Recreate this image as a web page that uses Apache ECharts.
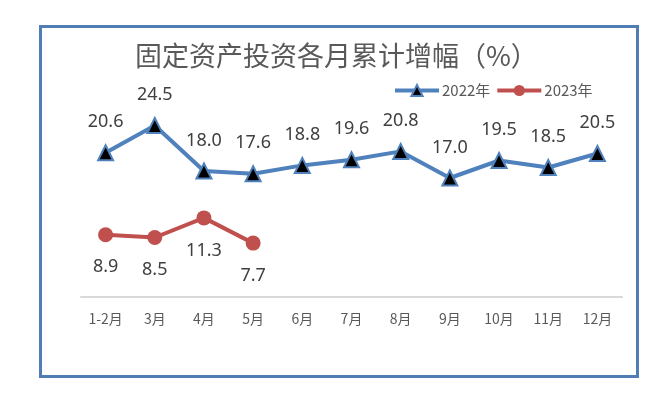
<!DOCTYPE html>
<html><head><meta charset="utf-8">
<script src="https://cdn.jsdelivr.net/npm/echarts@6/dist/echarts.min.js"></script>
<style>html,body{margin:0;padding:0;background:#fff}#c{width:661px;height:393px}</style>
</head><body><div id="c"></div>
<script>
const categories = ['1-2月','3月','4月','5月','6月','7月','8月','9月','10月','11月','12月'];
const values2022 = [20.6, 24.5, 18.0, 17.6, 18.8, 19.6, 20.8, 17.0, 19.5, 18.5, 20.5];
const values2023 = [8.9, 8.5, 11.3, 7.7];
const seriesNames = ['2022年', '2023年'];
const titleText = '固定资产投资各月累计增幅（%）';

const chart = echarts.init(document.getElementById('c'), null, {renderer: 'canvas'});
chart.setOption({
  animation: false,
  backgroundColor: '#fff',
  graphic: [{
    type: 'rect', left: 38, top: 24,
    shape: {width: 597, height: 350},
    style: {fill: 'none', stroke: '#4f7db4', lineWidth: 3}
  }],
  title: {
    text: titleText, left: 130, top: 37,
    textStyle: {fontFamily: 'Noto Sans CJK SC', fontSize: 27, fontWeight: 'normal', color: '#595959'}
  },
  legend: {
    left: 388, top: 78, itemWidth: 44, itemHeight: 14, itemGap: 5,
    lineStyle: {width: 4},
    textStyle: {fontFamily: 'Noto Sans CJK SC', fontSize: 15, color: '#595959', padding: [0,0,0,-2]},
    data: seriesNames
  },
  grid: {left: 81, right: 39, top: 87, bottom: 96},
  xAxis: {
    type: 'category', data: categories, boundaryGap: true,
    axisLine: {lineStyle: {color: '#d9d9d9', width: 2}},
    axisTick: {show: false},
    axisLabel: {margin: 15, fontFamily: 'Noto Sans CJK SC', fontSize: 14, color: '#595959'}
  },
  yAxis: {
    type: 'value', min: 0, max: 30, show: false, splitLine: {show: false}
  },
  series: [{
    name: seriesNames[0], type: 'line', data: values2022,
    symbol: 'triangle', symbolSize: 15,
    lineStyle: {color: '#4f81bd', width: 4},
    itemStyle: {color: '#000', borderColor: '#4f81bd', borderWidth: 2},
    label: {show: true, position: 'top', distance: 13, formatter: p => p.value.toFixed(1),
      fontFamily: 'Noto Sans', fontSize: 18, color: '#404040'}
  }, {
    name: seriesNames[1], type: 'line', data: values2023,
    symbol: 'circle', symbolSize: 15,
    lineStyle: {color: '#c0504d', width: 4},
    itemStyle: {color: '#c0504d'},
    label: {show: true, position: 'bottom', distance: 16, formatter: p => p.value.toFixed(1),
      fontFamily: 'Noto Sans', fontSize: 18, color: '#404040'}
  }]
});
</script></body></html>
